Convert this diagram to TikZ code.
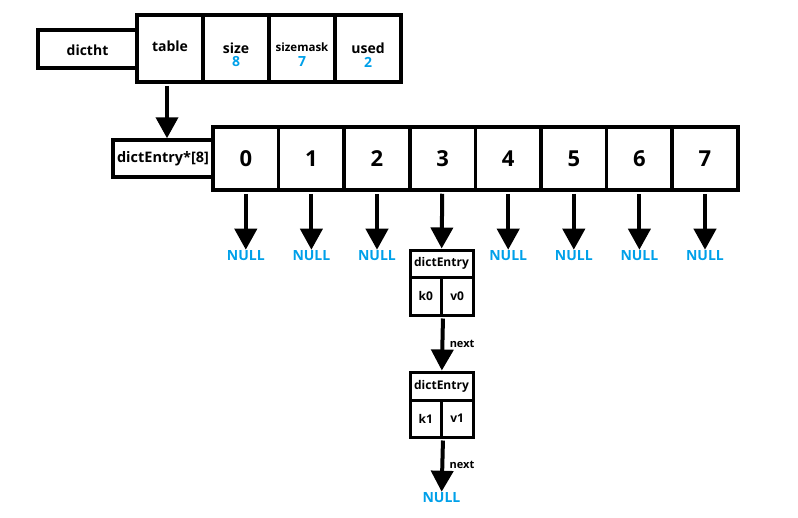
\documentclass[tikz,border=0pt]{standalone}
\usepackage{fontspec}
\setmainfont{Open Sans}
\usetikzlibrary{arrows.meta, positioning}
\definecolor{nullblue}{RGB}{0,160,233}

\begin{document}
\begin{tikzpicture} [
    x=1pt, y=-1pt,
    every node/.style = {font=\bfseries\fontsize{14}{14}\selectfont},
    cell/.style = {draw, line width=3.5pt, inner sep=0pt,
        minimum width=66pt, minimum height=67pt},
    slot/.style = {draw, line width=3.5pt, inner sep=0pt,
        minimum width=65.6pt, minimum height=63pt,
        font=\bfseries\fontsize{22}{22}\selectfont},
    part/.style = {draw, line width=3pt, inner sep=0pt,
        font=\bfseries\fontsize{12}{12}\selectfont},
    val/.style = {text=nullblue, inner sep=0pt},
    nul/.style = {text=nullblue, inner sep=1pt},
    ptr/.style = {line width=4pt, shorten <=2pt,
        -{Triangle[length=21pt,width=22pt]}}]
    \useasboundingbox (0,0) rectangle (798,517);

    % dictht
    \node (dictht) [draw, line width=3.5pt, minimum width=99pt,
        minimum height=38pt] at (87.5,49) {};
    \node (dicthtt) at (87.5,50) {dictht};
    \node (table) [cell] at (170,48.5) {};
    \node (tablet) at (170,46) {table};
    \node (size) [cell] at (236,48.5) {};
    \node (sizet) at (236,48) {size};
    \node (sizev) [val] at (236,62) {8};
    \node (sizemask) [cell] at (302,48.5) {};
    \node (sizemaskt) [font=\bfseries\fontsize{11.5}{12}\selectfont]
        at (302,47) {sizemask};
    \node (sizemaskv) [val] at (302,62) {7};
    \node (used) [cell] at (368,48.5) {};
    \node (usedt) at (368,48) {used};
    \node (usedv) [val] at (368,62) {2};

    % dictEntry*[8]
    \node (arr) [draw, line width=3.5pt, minimum width=100pt,
        minimum height=37pt, inner sep=0pt,
        font=\bfseries\fontsize{14.5}{15}\selectfont]
        at (163,158.5) {dictEntry*[8]};
    \foreach \i in {0,...,7}
        \node (e\i) [slot] at (245.8+65.6*\i,158.5) {\i};

    \foreach \i in {0,1,2,4,5,6,7}
        \node (null\i) [nul] at (245.8+65.6*\i,256) {NULL};

    % dictEntry k0 v0
    \node (h0) [part, minimum width=63pt, minimum height=27pt]
        at (441.5,263.5) {dictEntry};
    \node (k0) [part, minimum width=31.5pt, minimum height=38pt]
        at (425.75,296) {k0};
    \node (v0) [part, minimum width=31.5pt, minimum height=38pt]
        at (457.25,296) {v0};

    % dictEntry k1 v1
    \node (h1) [part, minimum width=63pt, minimum height=28pt]
        at (441.5,386) {dictEntry};
    \node (k1) [part, minimum width=31.5pt, minimum height=37pt]
        at (425.75,418.5) {k1};
    \node (v1) [part, minimum width=31.5pt, minimum height=37pt]
        at (457.25,418.5) {v1};

    \node (null8) [nul] at (441.5,498) {NULL};

    \path [ptr]
        (table.south -| arr.north) ++(4,0) coordinate (tab)
        (tab) edge (tab |- arr.north)
        (e3) edge (h0)
        (k0.south east) edge node [right=2pt,
            font=\bfseries\fontsize{11}{11}\selectfont] {next} (h1)
        (k1.south east) edge node [right=2pt,
            font=\bfseries\fontsize{11}{11}\selectfont] {next} (null8);
    \foreach \i in {0,1,2,4,5,6,7}
        \draw [ptr] (e\i) -- (null\i);
\end{tikzpicture}
\end{document}
